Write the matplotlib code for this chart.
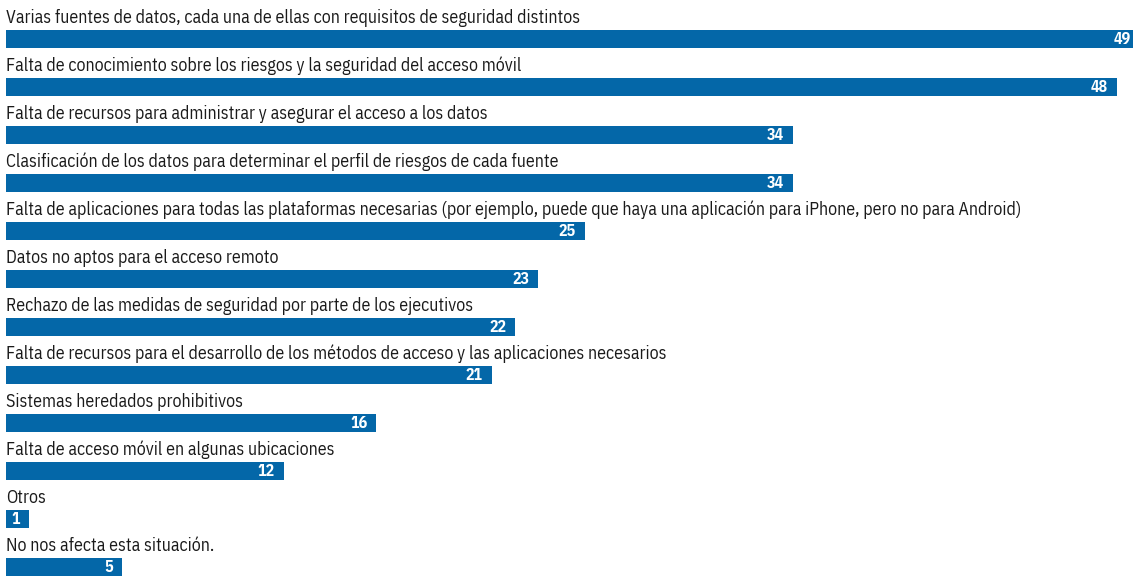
import matplotlib.pyplot as plt
from matplotlib import font_manager

categorias = [
    "Varias fuentes de datos, cada una de ellas con requisitos de seguridad distintos",
    "Falta de conocimiento sobre los riesgos y la seguridad del acceso móvil",
    "Falta de recursos para administrar y asegurar el acceso a los datos",
    "Clasificación de los datos para determinar el perfil de riesgos de cada fuente",
    "Falta de aplicaciones para todas las plataformas necesarias (por ejemplo, puede que haya una aplicación para iPhone, pero no para Android)",
    "Datos no aptos para el acceso remoto",
    "Rechazo de las medidas de seguridad por parte de los ejecutivos",
    "Falta de recursos para el desarrollo de los métodos de acceso y las aplicaciones necesarios",
    "Sistemas heredados prohibitivos",
    "Falta de acceso móvil en algunas ubicaciones",
    "Otros",
    "No nos afecta esta situación.",
]
valores = [49, 48, 34, 34, 25, 23, 22, 21, 16, 12, 1, 5]

azul = "#0467a8"

# fuente estrecha si está instalada
nombres = {f.name for f in font_manager.fontManager.ttflist}
fuente = "IBM Plex Sans Condensed" if "IBM Plex Sans Condensed" in nombres else "DejaVu Sans"
plt.rcParams["font.family"] = [fuente, "DejaVu Sans"]
plt.rcParams["font.stretch"] = "condensed"

fig = plt.figure(figsize=(11.33, 5.76), dpi=100)
ax = fig.add_axes([0, 0, 1, 1])

filas = list(range(len(valores)))
ax.barh(filas, valores, height=0.375, color=azul, left=0)

for i, (cat, v) in enumerate(zip(categorias, valores)):
    ax.text(0, i - 0.33, cat, ha="left", va="baseline", fontsize=12.9, color="#1a1a1a")
    ax.text(v - 0.39, i + 0.02, str(v), ha="right", va="center", fontsize=11.5,
            fontweight="bold", color="white")

ax.set_xlim(-6 / 23.15, 1127 / 23.15)
ax.set_ylim(537 / 48, -39 / 48)
ax.axis("off")

fig.savefig("out.png", dpi=100)
